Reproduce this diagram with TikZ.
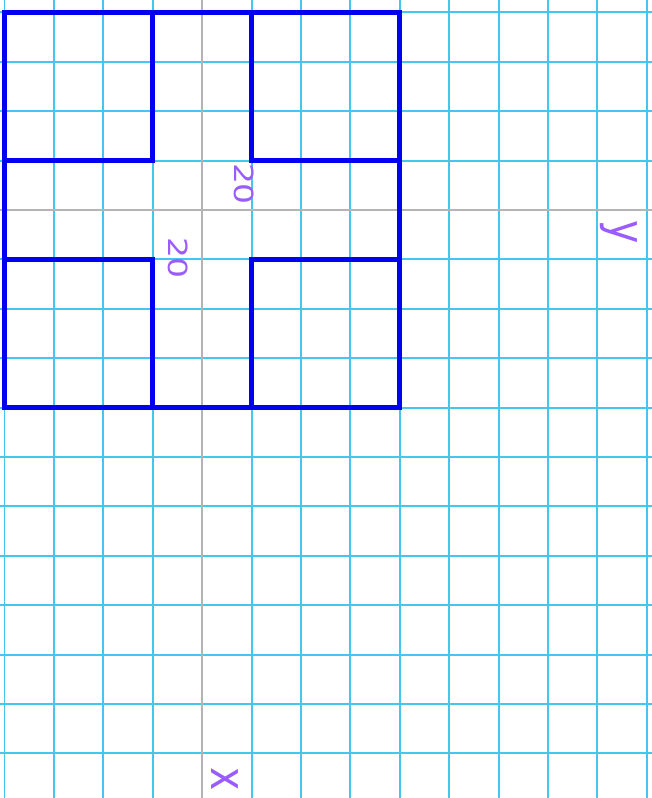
\documentclass[tikz,border=0pt]{standalone}
\usepackage{fontspec}
\setmainfont{DejaVu Sans}
\newfontfamily\numlblfont[FakeStretch=1.25]{DejaVu Sans}
\newfontfamily\axlblfont[FakeStretch=0.8]{DejaVu Sans}
\definecolor{gridcyan}{HTML}{45C6EE}
\definecolor{axisgray}{HTML}{B4B4B4}
\definecolor{shapeblue}{HTML}{0000F0}
\definecolor{lblpurple}{HTML}{9A5CFF}
\begin{document}
\begin{tikzpicture}[x=0.02cm,y=-0.02cm,
  gridline/.style={draw=gridcyan,line width=0.04cm},
  axisline/.style={draw=axisgray,line width=0.04cm},
  outline/.style={draw=shapeblue,line width=0.095cm,line join=miter,line cap=rect},
  lbl/.style={text=lblpurple,rotate=-90,inner sep=0pt},
  numlbl/.style={lbl,font=\numlblfont\fontsize{15}{15}\selectfont},
  axlbl/.style={lbl,font=\axlblfont\fontsize{28}{28}\selectfont}]
\useasboundingbox (0,0) rectangle (652,798);
\foreach \k in {0,...,13} \draw[gridline] ({4.5+49.4*\k},0) -- ({4.5+49.4*\k},798);
\foreach \j in {0,...,15} \draw[gridline] (0,{12.3+49.4*\j}) -- (652,{12.3+49.4*\j});
\draw[axisline] (202.1,0) -- (202.1,798);
\draw[axisline] (0,209.9) -- (652,209.9);
\draw[outline] (4.5,12.3) rectangle (399.7,407.5);
\draw[outline] (152.7,12.3) -- (152.7,160.5) -- (4.5,160.5);
\draw[outline] (251.5,12.3) -- (251.5,160.5) -- (399.7,160.5);
\draw[outline] (4.5,259.3) -- (152.7,259.3) -- (152.7,407.5);
\draw[outline] (399.7,259.3) -- (251.5,259.3) -- (251.5,407.5);
\node[numlbl] (l1) at (244.5,184) {20};
\node[numlbl] (l2) at (178,258) {20};
\node[axlbl] (ly) at (619,232) {y};
\node[axlbl] (lx) at (225,779) {x};
\end{tikzpicture}
\end{document}
